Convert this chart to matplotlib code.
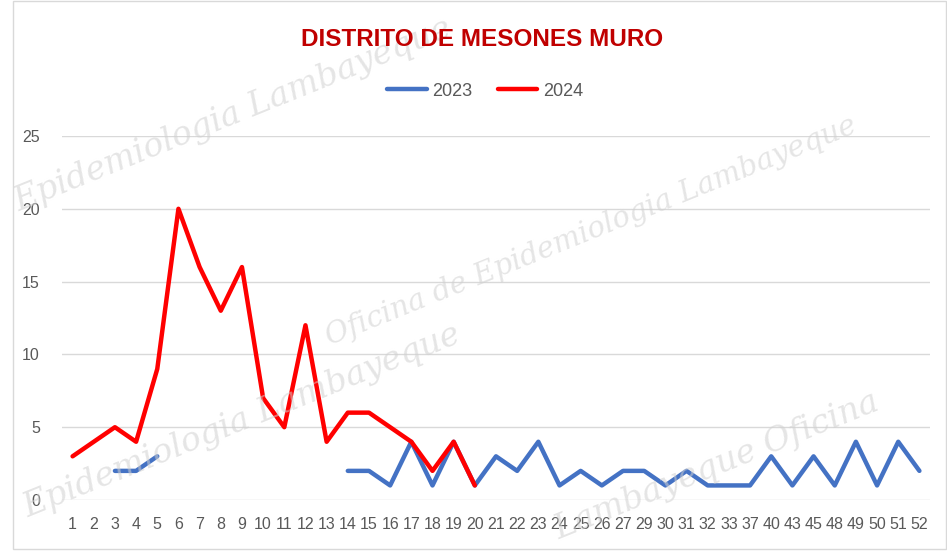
import matplotlib
matplotlib.use("Agg")
import matplotlib.pyplot as plt
import numpy as np

weeks = ["1","2","3","4","5","6","7","8","9","10","11","12","13","14","15","16","17","18","19","20",
         "21","22","23","24","25","26","27","29","30","31","32","33","37","40","43","45","48","49","50","51","52"]
nan = np.nan
s2023 = [nan, nan, 2, 2, 3, nan, nan, nan, nan, nan, nan, nan, nan, 2, 2, 1, 4, 1, 4, 1,
         3, 2, 4, 1, 2, 1, 2, 2, 1, 2, 1, 1, 1, 3, 1, 3, 1, 4, 1, 4, 2]
s2024 = [3, 4, 5, 4, 9, 20, 16, 13, 16, 7, 5, 12, 4, 6, 6, 5, 4, 2, 4, 1] + [nan] * 21
yticks = [0, 5, 10, 15, 20, 25]

fig = plt.figure(figsize=(9.47, 5.56), dpi=100)
fig.patch.set_facecolor("white")

# watermark (faint, fully inside the figure)
wm_texts = ["Epidemiologia Lambayeque", "Oficina de Epidemiologia Lambayeque",
            "Epidemiologia Lambayeque", "Lambayeque Oficina"]
wm_pos = [(0.01, 0.62), (0.34, 0.38), (0.02, 0.07), (0.58, 0.03)]
wm_size = [24, 21, 24, 24]
for t, (x, y), s in zip(wm_texts, wm_pos, wm_size):
    fig.text(x, y, t, rotation=22, fontsize=s, family="DejaVu Serif", style="italic",
             color="#d0d0d0", alpha=0.55, zorder=0)

# border
fig.add_artist(plt.Rectangle((13/947, 1-549/556), (946-13)/947, 548/556, transform=fig.transFigure,
                             fill=False, edgecolor="#d9d9d9", lw=1))

ax = fig.add_axes([62/947, 1-500/556, (930-62)/947, (500-136)/556])
ax.set_facecolor("none")
x = np.arange(1, len(weeks) + 1)
ax.plot(x, s2023, color="#4472C4", lw=3.2, label="2023", solid_capstyle="round", zorder=3)
ax.plot(x, s2024, color="#FF0000", lw=3.2, label="2024", solid_capstyle="round", zorder=4)
ax.set_xlim(0.5, len(weeks) + 0.5)
ax.set_ylim(0, 25)
ax.set_yticks(yticks)
ax.set_xticks(x)
ax.set_xticklabels(weeks)
ax.grid(axis="y", color="#d9d9d9", lw=1)
ax.set_axisbelow(True)
for sp in ax.spines.values():
    sp.set_visible(False)
ax.tick_params(axis="both", length=0, colors="#595959", labelsize=11.5)
ax.tick_params(axis="x", pad=12)
ax.tick_params(axis="y", pad=16)
for lab in ax.get_xticklabels() + ax.get_yticklabels():
    lab.set_family("Liberation Sans")

fig.text(482/947, 1-40/556, "DISTRITO DE MESONES MURO", ha="center", va="center",
         fontsize=17.5, fontweight="bold", color="#C00000", family="Liberation Sans")
leg = fig.legend(loc="center", bbox_to_anchor=(485/947, 1-91/556), ncol=2, frameon=False,
                 prop={"family": "Liberation Sans", "size": 13},
                 handlelength=2.2, columnspacing=1.4, handletextpad=0.3)
for t in leg.get_texts():
    t.set_color("#595959")

fig.savefig("out.png", dpi=100, facecolor="white")
